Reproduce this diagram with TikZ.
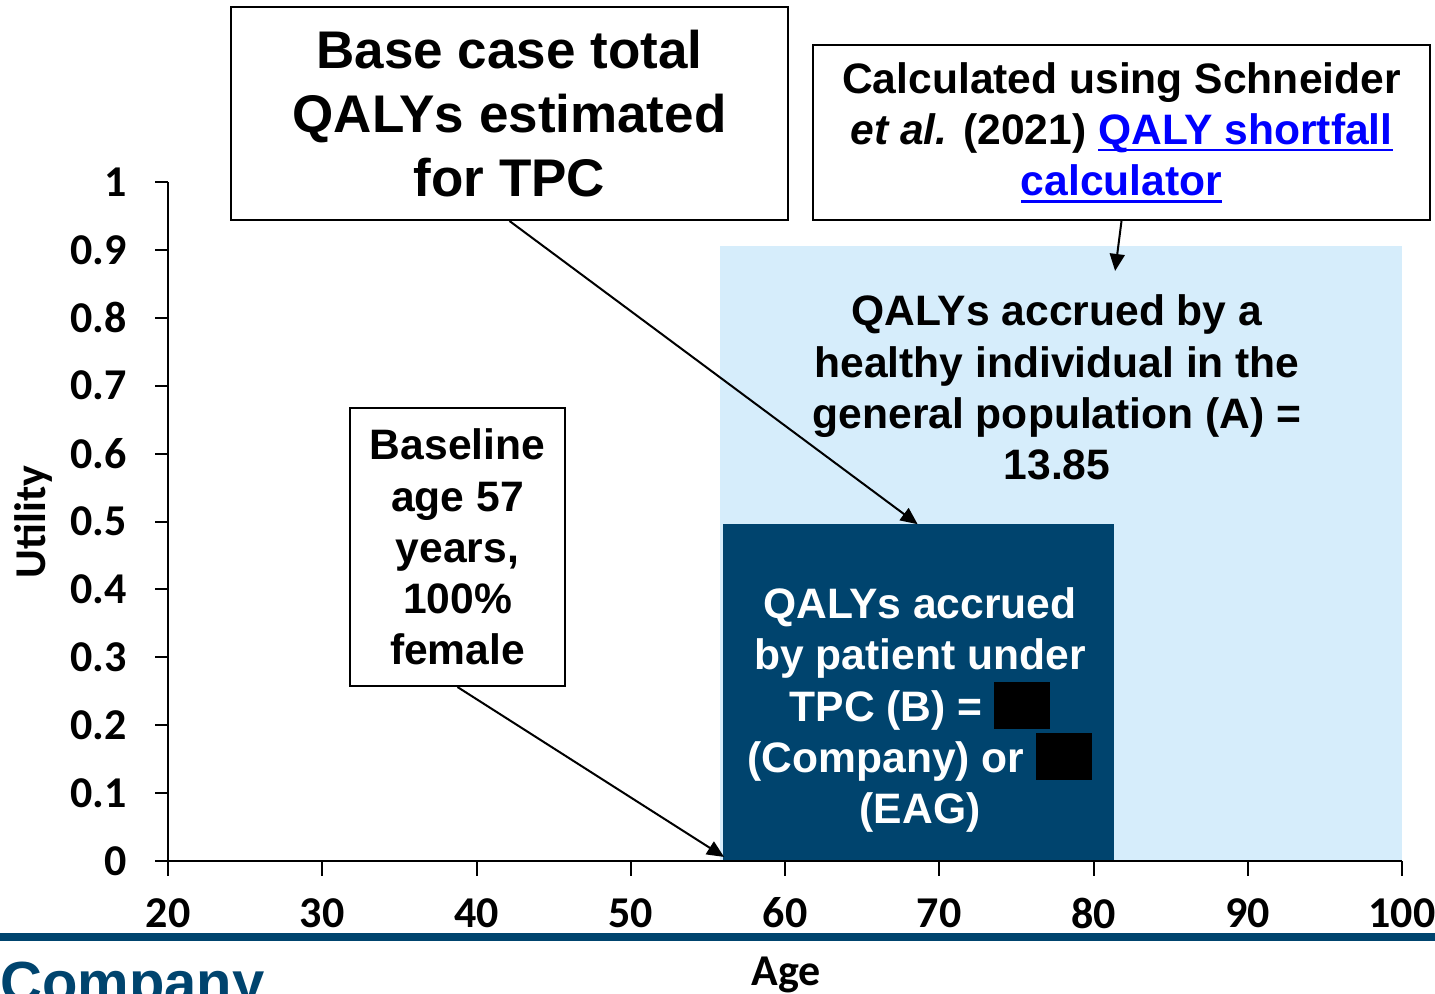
\documentclass[tikz,border=0pt]{standalone}
\usepackage{fontspec}
\setmainfont{Liberation Sans}
\newfontfamily\axisfont{Carlito}
\usetikzlibrary{arrows.meta}

\definecolor{navy}{RGB}{0,68,110}
\definecolor{skyfill}{RGB}{214,237,251}
\definecolor{linkblue}{RGB}{0,0,255}

% blacked-out values and underlined links
\newcommand{\redact}{\textcolor{black}{\rule[-4pt]{28pt}{23.5pt}}}
\newcommand{\linktext}[1]{\textcolor{linkblue}{\setbox0\hbox{#1}\rlap{\rule[-3.5pt]{\wd0}{1.4pt}}\box0}}

\tikzset{
  callout/.style={draw=black, line width=1pt, fill=white, align=center, inner sep=0pt,
    font=\bfseries\fontsize{21.3}{25.6}\selectfont},
  plaintext/.style={align=center, inner sep=0pt, font=\bfseries\fontsize{21.3}{25.6}\selectfont},
  pointer/.style={line width=1pt, -{Triangle[length=8.5pt,width=7.5pt]}},
  ticklab/.style={inner sep=0pt, font=\axisfont\bfseries\fontsize{22}{26}\selectfont},
  axtitle/.style={inner sep=0pt, font=\axisfont\bfseries\fontsize{22}{26}\selectfont},
}

\begin{document}
\begin{tikzpicture}[x=0.5pt, y=-0.5pt]
\useasboundingbox (0,0) rectangle (1435,993);

% chart in data units: age on x, utility on y
\begin{scope}[shift={(-140.5,861)}, x=7.7125pt, y=339.5pt]
\fill[skyfill] (55.8,0) rectangle (100,0.906);
\fill[navy] (56,0) rectangle (81.3,0.496);

\draw[black,line width=1pt] (20,0)--(20,1);
\draw[black,line width=1pt] (20,0)--(100,0);

\foreach \a in {20,30,...,100} {
  \draw[black,line width=1pt] (\a,0)--++(0pt,-7.5pt) node[ticklab, yshift=-18.5pt]{\a};
}
\foreach \u in {0,0.1,0.2,0.3,0.4,0.5,0.6,0.7,0.8,0.9,1} {
  \draw[black,line width=1pt] (20,\u)--++(-6.5pt,0pt) node[ticklab, anchor=east, xshift=-13.5pt]{\u};
}

\coordinate (tpctop) at (68.6,0.496);
\coordinate (start57) at (56.05,0.006);
\coordinate (healthytop) at (81.4,0.869);
\end{scope}

\node[axtitle, rotate=90] (ylab) at (33,522) {Utility};
\node[axtitle, anchor=base] (xlab) at (786,985) {Age};

% area labels
\node[plaintext] (healthy) at (1057,387.5) {QALYs accrued by a\\healthy individual in the\\general population (A) =\\13.85};
\node[plaintext, text=white] (patient) at (920,710) {QALYs accrued\\by patient under\\TPC (B) = \redact\\(Company) or \redact\\(EAG)};

% callout boxes
\node[callout, minimum width=278.5pt, minimum height=106.5pt,
  font=\bfseries\fontsize{26.5}{31.8}\selectfont] (basebox) at (509.5,113.5)
  {Base case total\\QALYs estimated\\for TPC};
\node[callout, minimum width=308.5pt, minimum height=87.5pt] (calcbox) at (1121.5,132.5)
  {Calculated using Schneider\\\textit{et al.} (2021) \linktext{QALY shortfall}\\\linktext{calculator}};
\node[callout, minimum width=107.5pt, minimum height=139pt] (agebox) at (457.5,547)
  {Baseline\\age 57\\years,\\100\%\\female};

\draw[pointer] (basebox.south)--(tpctop);
\draw[pointer] (agebox.south)--(start57);
\draw[pointer] (calcbox.south)--(healthytop);

% footer
\fill[navy] (0,933) rectangle (1435,941);
\node[anchor=base west, inner sep=0pt, text=navy, font=\bfseries\fontsize{29}{34}\selectfont] (company) at (0,1002) {Company};
\end{tikzpicture}
\end{document}
